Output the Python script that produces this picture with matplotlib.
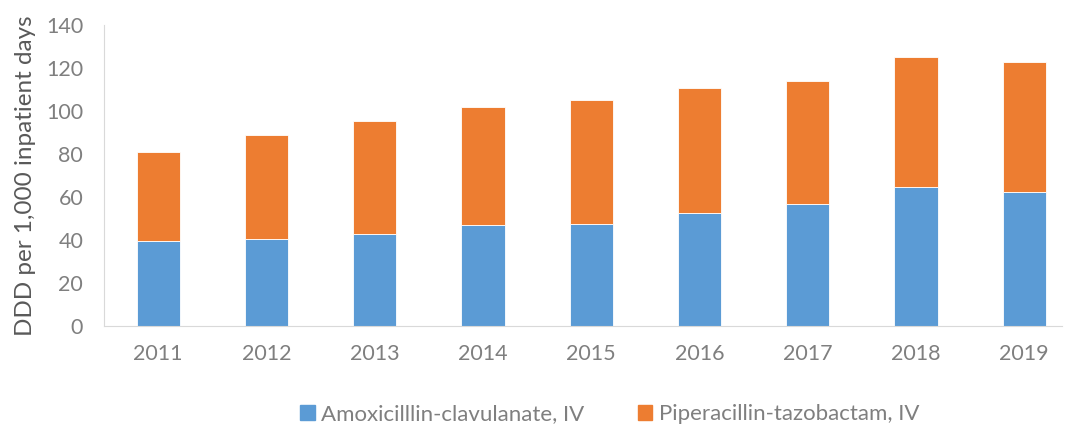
import matplotlib
matplotlib.use("Agg")
import matplotlib.pyplot as plt
from matplotlib.patches import Patch

years = ["2011", "2012", "2013", "2014", "2015", "2016", "2017", "2018", "2019"]
amox_clav = [39.5, 40.3, 43.0, 46.8, 47.6, 52.4, 56.6, 64.5, 62.5]
pip_tazo = [41.4, 48.5, 52.3, 55.1, 57.5, 58.3, 57.5, 60.5, 60.3]
series_names = ["Amoxicilllin-clavulanate, IV", "Piperacillin-tazobactam, IV"]

blue = "#5b9bd5"
orange = "#ed7d31"
plt.rcParams['font.family'] = ['Lato', 'DejaVu Sans']

fig = plt.figure(figsize=(10.66, 4.25), dpi=100)
ax = fig.add_axes([0.0976, 0.233, 0.8987, 0.708])

x = list(range(len(years)))
ax.bar(x, amox_clav, width=0.4, color=blue, edgecolor="white", linewidth=0.6)
ax.bar(x, pip_tazo, width=0.4, bottom=amox_clav, color=orange, edgecolor="white", linewidth=0.6)

ax.set_xlim(-0.5, 8.35)
ax.set_ylim(0, 140)
ax.set_yticks(range(0, 141, 20))
ax.set_xticks(x)
ax.set_xticklabels(years)
ax.tick_params(axis="both", length=0, labelsize=15.5, colors="#7f7f7f")
ax.tick_params(axis="y", pad=15)
ax.tick_params(axis="x", pad=13)

for s in ["top", "right"]:
    ax.spines[s].set_visible(False)
ax.spines["left"].set_color("#d9d9d9")
ax.spines["bottom"].set_color("#d9d9d9")

ax.set_ylabel("DDD per 1,000 inpatient days", fontsize=17.5, color="#595959", labelpad=7)

handles = [Patch(color=blue), Patch(color=orange)]
fig.legend(handles, series_names, loc="lower center", bbox_to_anchor=(0.572, -0.045),
           ncol=2, frameon=False, fontsize=16, labelcolor="#7f7f7f",
           handlelength=0.65, handleheight=0.65, handletextpad=0.3, columnspacing=2.4)

fig.savefig("out.png", dpi=100)
